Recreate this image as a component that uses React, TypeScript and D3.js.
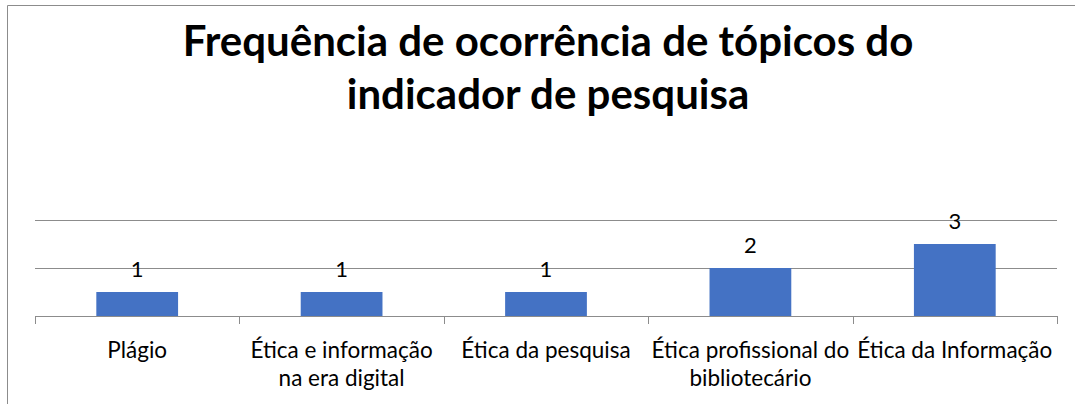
import * as d3 from 'd3';
import React, { useEffect, useRef } from 'react';

// chart data
const categories = [
  "Plágio",
  "Ética e informação na era digital",
  "Ética da pesquisa",
  "Ética profissional do bibliotecário",
  "Ética da Informação",
];
const categoryLines = [
  ["Plágio"],
  ["Ética e informação", "na era digital"],
  ["Ética da pesquisa"],
  ["Ética profissional do", "bibliotecário"],
  ["Ética da Informação"],
];
const values = [1, 1, 1, 2, 3];
const gridTicks = [0, 2, 4];
const titleLines = ["Frequência de ocorrência de tópicos do", "indicador de pesquisa"];

const App: React.FC = () => {
  const ref = useRef<SVGSVGElement>(null);

  useEffect(() => {
    if (!ref.current) return;
    d3.select(ref.current).selectAll("*").remove();

    const width = 1075;
    const height = 404;
    const font = "Lato, 'Noto Sans', sans-serif";

    const svg = d3.select(ref.current)
      .attr("width", width)
      .attr("height", height)
      .style("display", "block")
      .style("position", "absolute")
      .style("left", "0px")
      .style("top", "0px")
      .style("background", "#fff");

    // outer frame (top and left edges are visible)
    svg.append("line")
      .attr("x1", 7.5).attr("x2", width).attr("y1", 5.5).attr("y2", 5.5)
      .attr("stroke", "#8c8c8c").attr("stroke-width", 1);
    svg.append("line")
      .attr("x1", 7.5).attr("x2", 7.5).attr("y1", 5.5).attr("y2", height)
      .attr("stroke", "#8c8c8c").attr("stroke-width", 1);

    // title
    svg.append("text")
      .attr("x", 548)
      .attr("text-anchor", "middle")
      .style("font-family", font)
      .style("font-weight", "bold")
      .style("font-size", "42px")
      .attr("fill", "#000")
      .selectAll("tspan")
      .data(titleLines)
      .enter().append("tspan")
      .attr("x", 548)
      .attr("y", (_d, i) => 56 + i * 53)
      .text(d => d);

    const x = d3.scaleBand()
      .domain(categories)
      .range([35, 1057])
      .paddingInner(0)
      .paddingOuter(0);

    const y = d3.scaleLinear()
      .domain([0, 4])
      .range([316, 220]);

    // gridlines
    svg.selectAll(".grid")
      .data(gridTicks.filter(t => t > 0))
      .enter().append("line")
      .attr("class", "grid")
      .attr("x1", 35).attr("x2", 1057)
      .attr("y1", d => Math.round(y(d)) + 0.5)
      .attr("y2", d => Math.round(y(d)) + 0.5)
      .attr("stroke", "#8c8c8c");

    // bars
    const barW = x.bandwidth() * 0.4;
    svg.selectAll(".bar")
      .data(values)
      .enter().append("rect")
      .attr("class", "bar")
      .attr("x", (_d, i) => (x(categories[i]) as number) + (x.bandwidth() - barW) / 2)
      .attr("y", d => y(d))
      .attr("width", barW)
      .attr("height", d => y(0) - y(d))
      .attr("fill", "#4472c4");

    // baseline and tick marks
    svg.append("line")
      .attr("x1", 35).attr("x2", 1057)
      .attr("y1", Math.round(y(0)) + 0.5).attr("y2", Math.round(y(0)) + 0.5)
      .attr("stroke", "#8c8c8c");
    const bounds = categories.map(c => x(c) as number).concat([1057]);
    svg.selectAll(".tick")
      .data(bounds)
      .enter().append("line")
      .attr("class", "tick")
      .attr("x1", d => Math.round(d) + 0.5)
      .attr("x2", d => Math.round(d) + 0.5)
      .attr("y1", Math.round(y(0)))
      .attr("y2", Math.round(y(0)) + 8)
      .attr("stroke", "#8c8c8c");

    // data labels
    svg.selectAll(".val")
      .data(values)
      .enter().append("text")
      .attr("class", "val")
      .attr("x", (_d, i) => (x(categories[i]) as number) + x.bandwidth() / 2)
      .attr("y", d => y(d) - 15)
      .attr("text-anchor", "middle")
      .style("font-family", font)
      .style("font-size", "22px")
      .attr("fill", "#000")
      .text(d => d);

    // category labels
    const labels = svg.selectAll(".cat")
      .data(categoryLines)
      .enter().append("text")
      .attr("class", "cat")
      .attr("text-anchor", "middle")
      .style("font-family", font)
      .style("font-size", "22.5px")
      .attr("fill", "#000");
    labels.each(function (lines, i) {
      const cx = (x(categories[i]) as number) + x.bandwidth() / 2;
      d3.select(this).selectAll("tspan")
        .data(lines)
        .enter().append("tspan")
        .attr("x", cx)
        .attr("y", (_d, j) => 358 + j * 28)
        .text(d => d);
    });
  }, []);

  return <svg ref={ref}></svg>;
};

export default App;
